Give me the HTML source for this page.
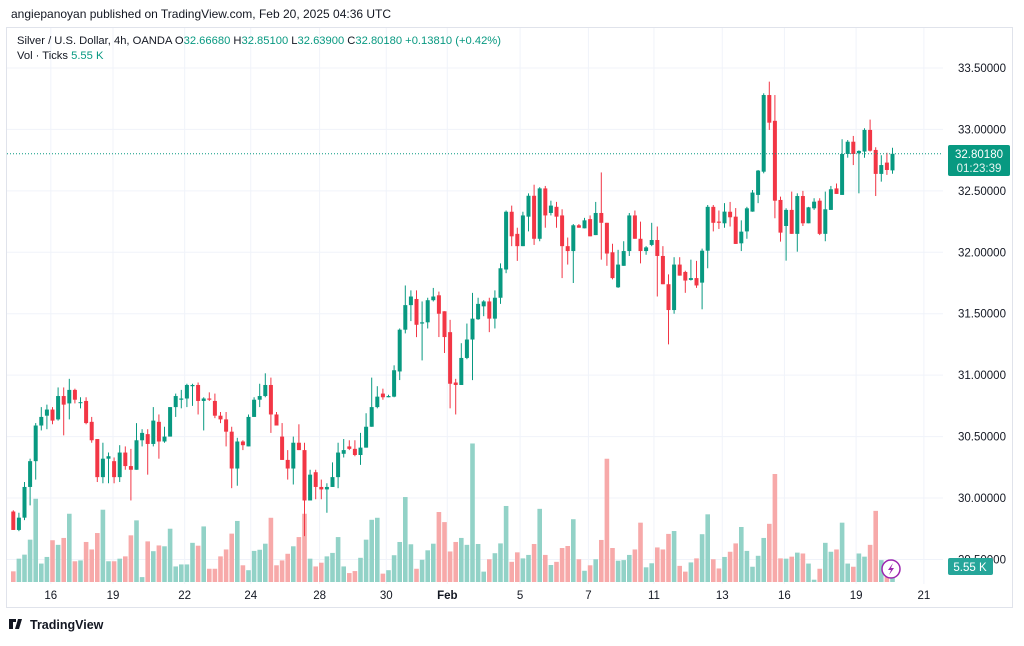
<!DOCTYPE html>
<html><head><meta charset="utf-8"><style>
html,body{margin:0;padding:0;background:#fff;}
body{width:1024px;height:641px;overflow:hidden;font-family:"Liberation Sans",Arial,sans-serif;}
svg text{font-family:"Liberation Sans",Arial,sans-serif;}
</style></head><body>
<svg id="chart" width="1024" height="641" viewBox="0 0 1024 641" xmlns="http://www.w3.org/2000/svg">
<rect x="0" y="0" width="1024" height="641" fill="#ffffff"/>
<text x="11" y="18" font-size="12" fill="#131722">angiepanoyan published on TradingView.com, Feb 20, 2025 04:36 UTC</text>
<rect x="6.5" y="27.5" width="1006" height="580" fill="none" stroke="#e0e3eb"/>
<g id="grid"></g>
<g id="vols"></g>
<g id="candles"></g>
<line id="lastline" x1="7" x2="943" stroke="#089981" stroke-dasharray="1,2" stroke-width="1"/>
<g id="axis"></g>
<g id="xaxis"></g>
<g>
<text x="17" y="44" font-size="11.2" fill="#131722">Silver / U.S. Dollar, 4h, OANDA <tspan fill="#131722">O</tspan><tspan fill="#089981">32.66680</tspan> <tspan>H</tspan><tspan fill="#089981">32.85100</tspan> <tspan>L</tspan><tspan fill="#089981">32.63900</tspan> <tspan>C</tspan><tspan fill="#089981">32.80180</tspan> <tspan fill="#089981">+0.13810 (+0.42%)</tspan></text>
<text x="17" y="59" font-size="11.2" fill="#131722">Vol · Ticks <tspan fill="#089981">5.55 K</tspan></text>
</g>
<g>
<rect x="948" y="145" width="62" height="31" rx="2" fill="#089981"/>
<text x="979" y="158" font-size="11.5" fill="#fff" text-anchor="middle">32.80180</text>
<text x="979" y="172" font-size="11.5" fill="#e6f5f2" text-anchor="middle">01:23:39</text>
</g>
<g>
<rect x="948" y="558" width="45" height="17" rx="2" fill="#26a69a"/>
<text x="970" y="571" font-size="11.5" fill="#fff" text-anchor="middle">5.55 K</text>
</g>
<g>
<circle cx="891" cy="569" r="9" fill="#fff" stroke="#9c27b0" stroke-width="1.5"/>
<path d="M893 563 L888 570 L891 570 L889 575 L894 568 L891 568 Z" fill="#9c27b0"/>
</g>
<g>
<path d="M9 619 h7 v3 h-3 v7 h-4 Z M18 619 h4 l-3 10 h-4 Z" fill="#131722"/>
<text x="30" y="629" font-size="12.5" fill="#131722" font-weight="bold">TradingView</text>
</g>
</svg>
<script>
const opens=[29.89,29.74,29.84,30.09,30.30,30.59,30.67,30.72,30.64,30.83,30.77,30.88,30.78,30.79,30.62,30.48,30.17,30.32,30.30,30.17,30.37,30.26,30.23,30.47,30.52,30.44,30.62,30.46,30.50,30.74,30.80,30.81,30.91,30.92,30.79,30.81,30.79,30.67,30.64,30.54,30.24,
30.46,30.42,30.66,30.80,30.83,30.92,30.68,30.50,30.31,30.24,30.45,30.39,29.98,30.21,30.09,30.07,30.09,30.17,30.36,30.42,30.40,30.35,30.41,30.58,30.74,30.85,30.82,30.825,31.03,31.37,31.57,31.62,31.42,31.43,31.61,31.65,31.52,31.35,30.94,30.92,31.14,
31.29,31.455,31.56,31.60,31.46,31.63,31.86,32.33,32.15,32.05,32.29,32.46,32.11,32.52,32.32,32.37,32.30,32.05,32.01,32.22,32.195,32.27,32.14,32.32,32.24,32.00,31.715,31.89,32.01,32.30,32.11,32.01,32.06,32.10,31.97,31.74,31.53,31.90,31.84,31.775,31.79,
31.753,32.013,32.37,32.25,32.236,32.33,32.29,32.073,32.17,32.331,32.467,32.656,33.28,33.07,32.426,32.214,32.345,32.15,32.458,32.236,32.358,32.42,32.15,32.345,32.52,32.467,32.80,32.90,32.806,32.82,32.996,32.833,32.638,32.73,32.6668];
const highs=[29.90,29.88,30.13,30.32,30.61,30.74,30.76,30.74,30.90,30.90,30.97,30.89,30.82,30.82,30.66,30.48,30.45,30.37,30.33,30.43,30.42,30.40,30.61,30.56,30.56,30.74,30.68,30.58,30.74,30.85,30.88,30.93,30.93,30.94,30.82,30.86,30.85,30.70,30.70,30.58,30.49,
30.47,30.68,30.82,30.93,31.015,30.98,30.70,30.61,30.39,30.50,30.60,30.45,30.23,30.23,30.15,30.12,30.29,30.45,30.48,30.47,30.47,30.53,30.69,30.98,30.91,30.89,30.84,31.08,31.38,31.73,31.69,31.69,31.60,31.63,31.71,31.68,31.52,31.45,30.97,31.26,31.42,
31.67,31.63,31.61,31.63,31.69,31.91,32.34,32.38,32.20,32.33,32.48,32.55,32.53,32.54,32.42,32.41,32.35,32.12,32.23,32.23,32.28,32.30,32.41,32.65,32.24,32.07,32.02,32.09,32.32,32.34,32.25,32.05,32.24,32.21,32.05,31.82,31.96,31.96,31.85,31.94,31.93,
32.03,32.385,32.385,32.34,32.40,32.41,32.36,32.26,32.37,32.507,32.67,33.294,33.389,33.28,32.453,32.358,32.494,32.48,32.50,32.37,32.44,32.44,32.494,32.54,32.56,32.92,32.914,32.947,32.83,33.01,33.08,32.855,32.79,32.81,32.851];
const lows=[29.74,29.73,29.82,29.94,30.15,30.55,30.56,30.60,30.63,30.51,30.64,30.77,30.73,30.60,30.45,30.13,30.12,30.12,30.12,30.13,30.23,29.98,30.23,30.42,30.19,30.42,30.32,30.45,30.50,30.66,30.73,30.74,30.75,30.68,30.55,30.79,30.65,30.61,30.42,30.08,30.10,
30.39,30.42,30.66,30.74,30.82,30.53,30.59,30.31,30.15,30.11,30.39,29.69,30.00,29.99,29.99,29.88,30.09,30.08,30.33,30.39,30.34,30.27,30.41,30.58,30.73,30.80,30.82,30.82,30.96,31.34,31.44,31.31,31.12,31.38,31.60,31.31,31.18,30.73,30.68,30.92,31.13,
30.96,31.45,31.48,31.35,31.38,31.58,31.83,32.05,31.93,32.05,32.17,32.06,32.09,32.20,32.30,32.20,31.79,31.90,31.75,32.20,32.195,32.13,32.14,31.94,31.89,31.78,31.71,31.89,31.97,32.11,31.91,31.98,32.05,31.64,31.74,31.25,31.50,31.81,31.67,31.77,31.71,
31.536,31.87,32.17,32.19,32.20,32.21,32.068,32.01,32.11,32.33,32.40,32.643,32.996,32.277,32.087,31.932,32.15,32.005,32.214,32.236,32.345,32.14,32.09,32.345,32.475,32.467,32.77,32.71,32.48,32.77,32.82,32.458,32.575,32.63,32.639];
const closes=[29.74,29.84,30.09,30.30,30.59,30.66,30.72,30.63,30.83,30.76,30.88,30.80,30.78,30.61,30.47,30.17,30.32,30.34,30.17,30.37,30.26,30.23,30.47,30.53,30.44,30.63,30.46,30.50,30.74,30.83,30.81,30.92,30.92,30.79,30.81,30.80,30.67,30.64,30.54,30.24,30.46,
30.43,30.66,30.80,30.83,30.92,30.68,30.59,30.31,30.24,30.45,30.39,29.98,30.19,30.09,30.07,30.09,30.17,30.37,30.39,30.40,30.35,30.41,30.58,30.74,30.825,30.82,30.83,31.04,31.37,31.57,31.64,31.41,31.43,31.61,31.64,31.50,31.31,30.93,30.92,31.14,31.29,
31.46,31.58,31.60,31.46,31.63,31.87,32.33,32.13,32.05,32.30,32.46,32.11,32.52,32.30,32.38,32.29,32.05,32.01,32.22,32.20,32.26,32.13,32.32,32.24,31.99,31.79,31.90,32.01,32.30,32.11,32.01,32.04,32.10,31.97,31.74,31.53,31.90,31.81,31.77,31.79,31.73,
32.013,32.37,32.24,32.24,32.331,32.285,32.068,32.168,32.358,32.486,32.665,33.28,33.055,32.42,32.16,32.345,32.15,32.458,32.236,32.366,32.412,32.15,32.35,32.513,32.475,32.80,32.90,32.80,32.825,32.996,32.827,32.638,32.71,32.67,32.8018];
const volumes=[3.7,8.1,9.5,14.7,28.9,6.4,8.7,14.5,12.9,15.3,23.7,7.2,7.5,13.9,11.3,17,25.1,7.2,7.2,8.1,8.9,16.2,21.4,1.7,14.1,10.7,12.7,12.4,18.5,5.4,6.1,6.1,13.6,12.6,19.3,4.6,4.6,8.9,11.3,16.8,21.2,
5.8,4.1,10.8,11.2,13.3,22.3,5.8,7.5,9.8,12.4,15.6,23.7,8.1,5.4,6.7,8.9,10.1,15.6,5.4,3.1,3.8,8.4,14.7,21.6,22.3,2.9,4.1,9.3,13.9,29.5,13.1,4.6,7.7,11,13.3,24.3,20.8,10.6,13.9,15.3,12.9,
48.1,13.2,3.6,7.9,10,13.4,26.4,7,10.3,8.2,9.4,13.2,25.4,9.4,5.9,7,11.8,12.5,21.8,7.9,3.9,5.8,7.9,14.6,42.8,11.8,7.4,7.6,9.4,11.3,20.6,5.1,6.5,12,11.3,16.7,17.7,5.6,3.6,6.8,8.2,
16.6,23.5,7.9,4.7,8.7,10.5,13.4,19.1,10.8,5.3,9.1,15.3,20.2,37.5,8.2,8.1,8.8,10.2,9.9,6.4,0.8,4.6,13.6,10.5,11.3,20.6,6.4,5.3,9.9,8.8,12.9,24.7,7.6,3.5,5.55];
const priceTicks=[33.5,33.0,32.5,32.0,31.5,31.0,30.5,30.0,29.5];
const dateLabels=["16","19","22","24","28","30","Feb","5","7","11","13","16","19","21"];
const dateIndex=[6.7,17.8,30.6,42.4,54.7,66.6,77.5,90.5,102.7,114.4,126.6,137.7,150.5,162.6];

const NS="http://www.w3.org/2000/svg";
function y(p){return 68+(33.5-p)*122.86;}
function x(i){return 13.3+i*5.6;}
function vh(v){return v*2.88;}
const VBASE=582;
function mk(tag,attrs,parent){const e=document.createElementNS(NS,tag);for(const k in attrs)e.setAttribute(k,attrs[k]);parent.appendChild(e);return e;}
const grid=document.getElementById('grid'),axis=document.getElementById('axis'),xa=document.getElementById('xaxis');
priceTicks.forEach(function(p){
  const l=mk('line',{x1:7,x2:943,y1:y(p),y2:y(p),stroke:'#f0f3fa','stroke-width':1},grid);
  
  
  const t=mk('text',{x:958,y:y(p)+4,'font-size':11.5,fill:'#131722'},axis);
  t.textContent=p.toFixed(5);
  
  
});
dateLabels.forEach(function(d,k){
  const xx=x(dateIndex[k]);
  const l=mk('line',{x1:xx,x2:xx,y1:28,y2:584,stroke:'#f0f3fa','stroke-width':1},grid);
  
  
  const t=mk('text',{x:xx,y:599,'font-size':11.5,fill:'#131722','text-anchor':'middle','font-weight':d==='Feb'?'bold':'normal'},xa);
  t.textContent=d;
  
  
});
const vg=document.getElementById('vols'),cg=document.getElementById('candles');
for(let i=0;i<closes.length;i++){
  const up=closes[i]>=opens[i];
  const col=up?'#089981':'#F23645';
  const vcol=up?'#92d2c7':'#f7a9a9';
  const h=vh(volumes[i]);
  const vb=mk('rect',{x:x(i)-2.3,y:VBASE-h,width:4.6,height:h,fill:vcol},vg);
  
  
  const w=mk('line',{x1:x(i),x2:x(i),y1:y(highs[i]),y2:y(lows[i]),stroke:col,'stroke-width':1},cg);
  
  
  const top=y(Math.max(opens[i],closes[i])),bot=y(Math.min(opens[i],closes[i]));
  const b=mk('rect',{x:x(i)-2,y:top,width:4,height:Math.max(1,bot-top),fill:col},cg);
  
  
}
const ll=document.getElementById('lastline');
ll.setAttribute('y1',y(closes[closes.length-1]));
ll.setAttribute('y2',y(closes[closes.length-1]));
</script>
</body></html>
